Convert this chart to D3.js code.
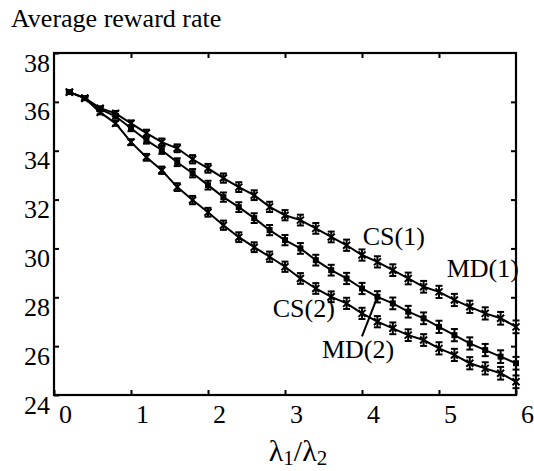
<!DOCTYPE html>
<html lang="en">
<head>
  <meta charset="UTF-8">
  <title>Average reward rate</title>
  <script src="https://d3js.org/d3.v7.min.js"></script>
  <style>
    body { margin: 0; padding: 0; background: #fff; }
  </style>
</head>
<body>
  <div id="chart"></div>

  <script>
    // ratio lambda1/lambda2
    const ratios = [0.2, 0.4, 0.6, 0.8, 1.0, 1.2, 1.4, 1.6, 1.8, 2.0,
                    2.2, 2.4, 2.6, 2.8, 3.0, 3.2, 3.4, 3.6, 3.8, 4.0,
                    4.2, 4.4, 4.6, 4.8, 5.0, 5.2, 5.4, 5.6, 5.8, 6.0];

    // average reward rate, one array per curve (top, middle, bottom)
    const upperRates = [36.40, 36.15, 35.74, 35.53, 35.12, 34.72, 34.35, 34.10, 33.65, 33.28,
                        32.88, 32.51, 32.18, 31.70, 31.36, 31.16, 30.82, 30.47, 30.13, 29.73,
                        29.45, 29.11, 28.77, 28.43, 28.22, 27.89, 27.61, 27.34, 27.14, 26.79];
    const middleRates = [36.40, 36.15, 35.70, 35.41, 34.92, 34.43, 34.02, 33.53, 33.08, 32.59,
                         32.10, 31.69, 31.24, 30.75, 30.34, 30.00, 29.52, 29.11, 28.77, 28.36,
                         28.02, 27.75, 27.41, 27.14, 26.79, 26.45, 26.11, 25.84, 25.57, 25.30];
    const lowerRates = [36.40, 36.15, 35.57, 35.12, 34.35, 33.73, 33.20, 32.51, 31.98, 31.48,
                        30.95, 30.46, 30.05, 29.66, 29.25, 28.77, 28.36, 28.02, 27.75, 27.34,
                        27.00, 26.73, 26.45, 26.25, 25.91, 25.64, 25.30, 25.09, 24.89, 24.54];

    // half width of the error bars
    const errors = [0.05, 0.06, 0.08, 0.10, 0.12, 0.14, 0.15, 0.16, 0.17, 0.18,
                    0.19, 0.20, 0.20, 0.21, 0.21, 0.22, 0.22, 0.22, 0.23, 0.23,
                    0.23, 0.24, 0.24, 0.24, 0.25, 0.25, 0.25, 0.25, 0.26, 0.26];

    const xTicks = [0, 1, 2, 3, 4, 5, 6];
    const yTicks = [24, 26, 28, 30, 32, 34, 36, 38];

    // curve labels: text, x, y (data units, baseline)
    const labelTexts = ["CS(1)", "MD(1)", "CS(2)", "MD(2)"];
    const labelX = [4.01, 5.10, 2.84, 3.48];
    const labelY = [30.13, 28.83, 27.20, 25.51];
    // pointer from the MD(2) label to its curve
    const pointerX = [4.0, 4.2];
    const pointerY = [26.4, 28.02];

    const width = 534, height = 471;
    const plotLeft = 54, plotRight = 516, plotTop = 53, plotBottom = 395;
    const serif = "'Liberation Serif', Tinos, 'Times New Roman', Times, 'DejaVu Serif', serif";

    const svg = d3.select("#chart").append("svg")
      .attr("width", width)
      .attr("height", height)
      .attr("font-family", serif);

    const x = d3.scaleLinear().domain([0, 6]).range([plotLeft, plotRight]);
    const y = d3.scaleLinear().domain([24, 38]).range([plotBottom, plotTop]);

    // axes, ticks pointing inwards
    const xAxis = svg.append("g")
      .attr("transform", `translate(0,${plotBottom})`)
      .call(d3.axisBottom(x).tickValues(xTicks).tickSizeInner(-5).tickSizeOuter(0).tickFormat(d3.format("d")));
    xAxis.attr("font-family", serif).attr("font-size", 26);
    xAxis.select(".domain").remove();
    xAxis.selectAll("line").attr("stroke-width", 2);
    xAxis.selectAll("text")
      .attr("x", 11).attr("y", 28).attr("dy", null);

    const yAxis = svg.append("g")
      .attr("transform", `translate(${plotLeft},0)`)
      .call(d3.axisLeft(y).tickValues(yTicks).tickSizeInner(-5).tickSizeOuter(0).tickFormat(d3.format("d")));
    yAxis.attr("font-family", serif).attr("font-size", 26);
    yAxis.select(".domain").remove();
    yAxis.selectAll("line").attr("stroke-width", 2);
    yAxis.selectAll("text")
      .attr("x", -4).attr("y", 18).attr("dy", null);

    const topAxis = svg.append("g")
      .attr("transform", `translate(0,${plotTop})`)
      .call(d3.axisTop(x).tickValues(xTicks.slice(1, -1)).tickSizeInner(-5).tickSizeOuter(0).tickFormat(""));
    topAxis.select(".domain").remove();
    topAxis.selectAll("line").attr("stroke-width", 2);

    const rightAxis = svg.append("g")
      .attr("transform", `translate(${plotRight},0)`)
      .call(d3.axisRight(y).tickValues(yTicks.slice(1, -1)).tickSizeInner(-5).tickSizeOuter(0).tickFormat(""));
    rightAxis.select(".domain").remove();
    rightAxis.selectAll("line").attr("stroke-width", 2);

    svg.append("rect")
      .attr("x", plotLeft).attr("y", plotTop)
      .attr("width", plotRight - plotLeft).attr("height", plotBottom - plotTop)
      .attr("fill", "none").attr("stroke", "#000").attr("stroke-width", 2.2);

    // curves
    const curves = [
      { values: upperRates, marker: "cross" },
      { values: middleRates, marker: "square" },
      { values: lowerRates, marker: "cross" }
    ];

    const line = d3.line().x(d => x(d[0])).y(d => y(d[1]));

    curves.forEach(c => {
      const pts = ratios.map((r, i) => [r, c.values[i], errors[i]]);
      const g = svg.append("g");

      g.append("path")
        .datum(pts)
        .attr("d", line)
        .attr("fill", "none")
        .attr("stroke", "#000")
        .attr("stroke-width", 2);

      // error bars
      const bars = g.selectAll(".err").data(pts).enter().append("g").attr("class", "err");
      bars.append("line")
        .attr("x1", d => x(d[0])).attr("x2", d => x(d[0]))
        .attr("y1", d => y(d[1] - d[2])).attr("y2", d => y(d[1] + d[2]))
        .attr("stroke", "#000").attr("stroke-width", 2);
      [-1, 1].forEach(s => {
        bars.append("line")
          .attr("x1", d => x(d[0]) - 3.5).attr("x2", d => x(d[0]) + 3.5)
          .attr("y1", d => y(d[1] + s * d[2])).attr("y2", d => y(d[1] + s * d[2]))
          .attr("stroke", "#000").attr("stroke-width", 2);
      });

      // markers
      if (c.marker === "square") {
        g.selectAll(".mk").data(pts).enter().append("rect")
          .attr("x", d => x(d[0]) - 3).attr("y", d => y(d[1]) - 3)
          .attr("width", 6).attr("height", 6)
          .attr("fill", "#000");
      } else {
        g.selectAll(".mk").data(pts).enter().append("path")
          .attr("d", d => {
            const cx = x(d[0]), cy = y(d[1]);
            return `M${cx - 3.5},${cy - 3.5}L${cx + 3.5},${cy + 3.5}M${cx - 3.5},${cy + 3.5}L${cx + 3.5},${cy - 3.5}`;
          })
          .attr("stroke", "#000").attr("stroke-width", 2);
      }
    });

    // curve labels
    svg.selectAll(".curve-label")
      .data(labelTexts)
      .enter().append("text")
      .attr("class", "curve-label")
      .attr("x", (d, i) => x(labelX[i]))
      .attr("y", (d, i) => y(labelY[i]))
      .attr("font-size", 26)
      .text(d => d);

    svg.append("line")
      .attr("x1", x(pointerX[0])).attr("y1", y(pointerY[0]))
      .attr("x2", x(pointerX[1])).attr("y2", y(pointerY[1]))
      .attr("stroke", "#000").attr("stroke-width", 2);

    // title
    svg.append("text")
      .attr("x", 11).attr("y", 27)
      .attr("font-size", 26)
      .text("Average reward rate");

    // x label lambda1/lambda2
    const xl = svg.append("text")
      .attr("x", 298).attr("y", 461)
      .attr("text-anchor", "middle")
      .attr("font-size", 30);
    xl.append("tspan").text("λ");
    xl.append("tspan").attr("dy", 4).attr("font-size", 21).text("1");
    xl.append("tspan").attr("dy", -4).text("/λ");
    xl.append("tspan").attr("dy", 4).attr("font-size", 21).text("2");
  </script>
</body>
</html>
